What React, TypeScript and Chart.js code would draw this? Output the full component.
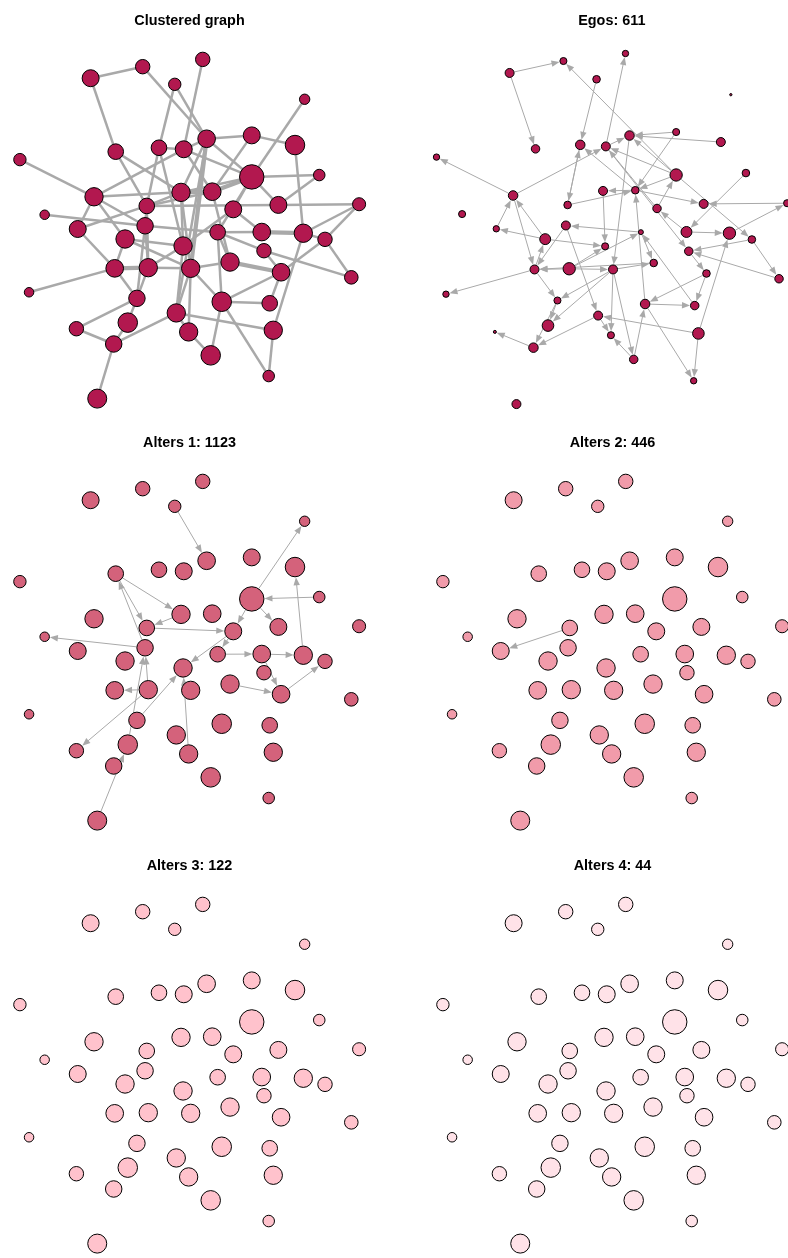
import React, { useEffect, useRef } from "react";
import { Chart, registerables } from "chart.js";

Chart.register(...registerables);

// ---- node layout (normalised layout coordinates, same layout in every panel) ----
const NODE_X = [
  -0.583, -0.276, -0.087, 0.078, 0.679, -1.0, -0.435, -0.18, -0.034, 0.101,
  0.367, 0.622, 0.367, 0.765, -0.563, -0.252, -0.05, 0.134, 0.258, 0.524,
  1.0, -0.854, -0.659, -0.262, -0.38, -0.038, 0.166, 0.426, 0.671, 0.799,
  0.439, -0.441, -0.243, 0.007, 0.239, 0.54, 0.954, -0.946, -0.31, 0.19,
  0.473, -0.078, -0.364, -0.667, -0.005, 0.494, -0.447, 0.125, 0.467, -0.544,
];
const NODE_Y = [
  0.889, 0.957, 0.853, 1.0, 0.765, 0.409, 0.456, 0.479, 0.47, 0.532,
  0.552, 0.495, 0.307, 0.318, 0.19, 0.136, 0.216, 0.22, 0.116, 0.142,
  0.146, 0.084, 0.0, 0.019, -0.059, -0.1, -0.019, -0.018, -0.025, -0.061,
  -0.128, -0.232, -0.228, -0.232, -0.195, -0.255, -0.285, -0.373, -0.409, -0.429,
  -0.438, -0.495, -0.552, -0.588, -0.607, -0.597, -0.678, -0.745, -0.867, -1.0,
];

// vertex sizes (igraph-style vertex.size)
const NODE_SIZE = [
  10.6, 9.1, 7.9, 9.1, 6.7, 7.9, 9.8, 9.8, 10.6, 11.0,
  10.6, 12.1, 15.0, 7.4, 11.4, 9.8, 11.4, 11.0, 10.6, 10.6,
  8.3, 6.2, 10.6, 10.3, 11.4, 11.4, 9.8, 11.0, 11.4, 9.1,
  9.1, 11.0, 11.4, 11.4, 11.4, 11.0, 8.6, 6.2, 10.3, 12.1,
  9.8, 11.4, 12.1, 9.1, 11.4, 11.4, 10.3, 12.1, 7.4, 11.8,
];
const EGO_SIZE = [
  5.7, 4.6, 4.9, 4.2, 1.9, 4.2, 5.4, 6.0, 5.7, 6.0,
  4.6, 5.7, 7.6, 4.9, 6.0, 4.9, 5.7, 4.9, 5.4, 5.7,
  4.6, 4.6, 4.2, 5.7, 6.8, 4.6, 3.4, 6.8, 7.6, 4.9,
  5.4, 5.7, 7.6, 5.7, 4.9, 4.9, 5.4, 4.2, 4.6, 6.0,
  5.4, 5.7, 7.2, 2.3, 4.6, 7.2, 6.0, 5.4, 4.2, 5.7,
];

// ---- edges ----
const CLUSTER_EDGES: [number, number][] = [
  [0, 1], [0, 6], [1, 9], [2, 7], [2, 9], [3, 8], [4, 12], [5, 14], [14, 8], [6, 15],
  [6, 16], [7, 8], [8, 9], [7, 15], [14, 22], [14, 24], [14, 23], [21, 23], [22, 15], [16, 25],
  [15, 23], [15, 17], [9, 10], [10, 11], [10, 17], [11, 28], [12, 13], [12, 19],
  [12, 18], [12, 26], [13, 19], [19, 20], [20, 28], [9, 12], [18, 27], [8, 12], [22, 31],
  [24, 31], [23, 32], [23, 38], [31, 38], [37, 31], [32, 25], [32, 33], [32, 38], [38, 42],
  [42, 46], [46, 41], [43, 46], [43, 38], [46, 49], [24, 33], [26, 27], [28, 29], [29, 36],
  [20, 29], [29, 35], [30, 35], [30, 36], [26, 30], [34, 33], [35, 39], [35, 40], [28, 45],
  [39, 40], [39, 47], [39, 26], [39, 33], [41, 45], [47, 44], [39, 48], [45, 48], [33, 44], [9, 16],
  [16, 14], [25, 41], [44, 41], [16, 33], [17, 34], [18, 25], [15, 32], [7, 25],
  [8, 17], [12, 16], [15, 16], [15, 19], [23, 26], [24, 25], [26, 34], [41, 33], [9, 41],
];
// multiple edges between the same pair, drawn heavier
const CLUSTER_MULTI_EDGES: [number, number][] = [
  [12, 17], [16, 17], [31, 32], [34, 35], [27, 28], [9, 33],
];
const EGO_EDGES: [number, number][] = [
  [0, 1], [0, 6], [2, 7], [12, 1], [14, 5], [14, 8], [17, 7], [15, 7], [7, 15], [8, 3],
  [18, 8], [15, 17], [22, 14], [24, 14], [10, 9], [11, 9], [10, 17], [12, 9], [8, 9], [12, 8],
  [9, 33], [8, 30], [12, 17], [17, 16], [17, 19], [12, 29], [13, 27], [20, 19], [28, 20], [27, 18],
  [18, 12], [39, 17], [24, 22], [31, 24], [14, 31], [23, 31], [26, 23], [23, 41], [24, 25], [16, 25],
  [31, 37], [32, 31], [31, 38], [32, 33], [34, 31], [32, 25], [33, 38], [38, 42], [33, 42], [38, 46],
  [41, 46], [46, 43], [41, 44], [27, 28], [45, 28], [29, 36], [29, 30], [36, 30], [30, 35], [35, 40],
  [35, 39], [39, 40], [39, 48], [45, 48], [45, 41], [47, 39], [47, 44], [33, 34], [33, 47], [33, 44],
  [32, 26], [26, 34], [40, 26],
];
const ALTERS1_EDGES: [number, number][] = [
  [2, 9], [12, 4], [28, 11], [13, 12], [12, 19], [12, 18], [18, 25], [18, 26], [6, 16], [16, 15],
  [15, 18], [23, 6], [6, 15], [23, 21], [32, 23], [42, 23], [32, 31], [32, 43], [49, 42], [38, 25],
  [44, 25], [26, 27], [27, 28], [27, 35], [34, 35], [35, 29],
];
const ALTERS2_EDGES: [number, number][] = [[15, 22]];
const NO_EDGES: [number, number][] = [];

const TITLES = [
  "Clustered graph",
  "Egos: 611",
  "Alters 1: 1123",
  "Alters 2: 446",
  "Alters 3: 122",
  "Alters 4: 44",
];

// ---- presentation ----
const W = 394;
const H = 413;
const ROW_TOP = [0, 422, 845];
const EDGE_COLOR = "#A9A9A9";
const TITLE_TOP = 12.4;
const TITLE_SIZE = 14.4;

type Spec = {
  title: string;
  col: number;
  row: number;
  fill: string;
  sizes: number[];
  scale: number;
  cx: number;
  cy: number;
  edges: [number, number][];
  heavy: [number, number][];
  directed: boolean;
  edgeWidth: number;
};

const PANELS: Spec[] = [
  { title: TITLES[0], col: 0, row: 0, fill: "#B2184F", sizes: NODE_SIZE, scale: 169.6, cx: 189.5, cy: 229, edges: CLUSTER_EDGES, heavy: CLUSTER_MULTI_EDGES, directed: false, edgeWidth: 2.5 },
  { title: TITLES[1], col: 1, row: 0, fill: "#B2184F", sizes: EGO_SIZE, scale: 175.3, cx: 217.8, cy: 228.8, edges: EGO_EDGES, heavy: NO_EDGES, directed: true, edgeWidth: 1 },
  { title: TITLES[2], col: 0, row: 1, fill: "#D4627B", sizes: NODE_SIZE, scale: 169.6, cx: 189.5, cy: 229, edges: ALTERS1_EDGES, heavy: NO_EDGES, directed: true, edgeWidth: 1 },
  { title: TITLES[3], col: 1, row: 1, fill: "#F19BAA", sizes: NODE_SIZE, scale: 169.6, cx: 218.5, cy: 229, edges: ALTERS2_EDGES, heavy: NO_EDGES, directed: true, edgeWidth: 1 },
  { title: TITLES[4], col: 0, row: 2, fill: "#FFC2CC", sizes: NODE_SIZE, scale: 169.6, cx: 189.5, cy: 229, edges: NO_EDGES, heavy: NO_EDGES, directed: false, edgeWidth: 1 },
  { title: TITLES[5], col: 1, row: 2, fill: "#FFE2E8", sizes: NODE_SIZE, scale: 169.6, cx: 218.5, cy: 229, edges: NO_EDGES, heavy: NO_EDGES, directed: false, edgeWidth: 1 },
];

function makeEdgePlugin(spec: Spec) {
  const k = spec.scale / 200;
  const AL = 8;
  const AW = 3.2;
  return {
    id: "edges",
    beforeDatasetsDraw(chart: any) {
      const ctx = chart.ctx as CanvasRenderingContext2D;
      const xs = chart.scales.x;
      const ys = chart.scales.y;
      const px = (i: number) => xs.getPixelForValue(NODE_X[i]);
      const py = (i: number) => ys.getPixelForValue(NODE_Y[i]);
      ctx.save();
      ctx.strokeStyle = EDGE_COLOR;
      ctx.fillStyle = EDGE_COLOR;
      // undirected (and multi) edges
      if (!spec.directed) {
        ctx.lineWidth = spec.edgeWidth * 1.7;
        for (const [a, b] of spec.heavy) {
          ctx.beginPath();
          ctx.moveTo(px(a), py(a));
          ctx.lineTo(px(b), py(b));
          ctx.stroke();
        }
        ctx.lineWidth = spec.edgeWidth;
        for (const [a, b] of spec.edges) {
          ctx.beginPath();
          ctx.moveTo(px(a), py(a));
          ctx.lineTo(px(b), py(b));
          ctx.stroke();
        }
        ctx.restore();
        return;
      }
      ctx.lineWidth = spec.edgeWidth;
      for (const [a, b] of spec.edges) {
        const x1 = px(a);
        const y1 = py(a);
        const x2 = px(b);
        const y2 = py(b);
        const dx = x2 - x1;
        const dy = y2 - y1;
        const len = Math.hypot(dx, dy) || 1;
        const ux = dx / len;
        const uy = dy / len;
        const sr = spec.sizes[a] * k;
        const tr = spec.sizes[b] * k;
        const tx = x2 - ux * tr;
        const ty = y2 - uy * tr;
        const bx = tx - ux * AL;
        const by = ty - uy * AL;
        ctx.beginPath();
        ctx.moveTo(x1 + ux * sr, y1 + uy * sr);
        ctx.lineTo(bx + ux, by + uy);
        ctx.stroke();
        ctx.beginPath();
        ctx.moveTo(tx, ty);
        ctx.lineTo(bx - uy * AW, by + ux * AW);
        ctx.lineTo(bx + uy * AW, by - ux * AW);
        ctx.closePath();
        ctx.fill();
      }
      ctx.restore();
    },
  };
}

function Panel({ spec }: { spec: Spec }) {
  const ref = useRef<HTMLCanvasElement>(null);
  useEffect(() => {
    const canvas = ref.current;
    if (!canvas) return;
    const k = spec.scale / 200;
    const areaTop = TITLE_TOP + TITLE_SIZE * 1.2;
    const padLeft = Math.max(0, 2 * spec.cx - W);
    const padRight = Math.max(0, W - 2 * spec.cx);
    const xMin = (padLeft - spec.cx) / spec.scale;
    const xMax = (W - padRight - spec.cx) / spec.scale;
    const yMax = (spec.cy - areaTop) / spec.scale;
    const yMin = -(H - spec.cy) / spec.scale;
    const radius = (c: any) => Math.max(0.6, spec.sizes[c.dataIndex] * k - 0.5);
    const chart = new Chart(canvas, {
      type: "scatter",
      data: {
        datasets: [
          {
            data: NODE_X.map((x, i) => ({ x, y: NODE_Y[i] })),
            backgroundColor: spec.fill,
            borderColor: "#000000",
            borderWidth: 1,
            pointRadius: radius,
            pointHoverRadius: radius,
            pointHoverBorderWidth: 1,
            pointHitRadius: 0,
            clip: false,
          } as any,
        ],
      },
      options: {
        animation: false,
        responsive: false,
        events: [],
        layout: { autoPadding: false, padding: { left: padLeft, right: padRight, top: 0, bottom: 0 } },
        scales: {
          x: { type: "linear", display: false, min: xMin, max: xMax },
          y: { type: "linear", display: false, min: yMin, max: yMax },
        },
        plugins: {
          legend: { display: false },
          tooltip: { enabled: false },
          title: {
            display: true,
            text: spec.title,
            color: "#000000",
            font: { family: "'Liberation Sans', Arial, Helvetica, sans-serif", size: TITLE_SIZE, weight: "bold" },
            padding: { top: TITLE_TOP, bottom: 0 },
          },
        },
      } as any,
      plugins: [makeEdgePlugin(spec)],
    });
    return () => chart.destroy();
  }, [spec]);
  return (
    <canvas
      ref={ref}
      width={W}
      height={H}
      style={{ position: "absolute", left: spec.col * W, top: ROW_TOP[spec.row], width: W, height: H }}
    />
  );
}

export default function App() {
  return (
    <div style={{ position: "absolute", left: 0, top: 0, width: 788, height: 1258, background: "#ffffff", overflow: "hidden" }}>
      {PANELS.map((p) => (
        <Panel key={p.title} spec={p} />
      ))}
    </div>
  );
}
